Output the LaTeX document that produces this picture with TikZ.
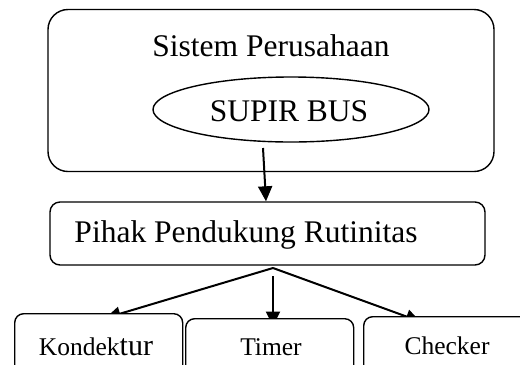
\documentclass[tikz,border=0pt]{standalone}
\usepackage{fontspec}
\setmainfont{Liberation Serif}
\usetikzlibrary{arrows.meta,shapes.geometric,backgrounds}
\begin{document}
\begin{tikzpicture}[x=1bp,y=-1bp,
  boxline/.style={draw,fill=white,line width=1.4bp},
  bigtext/.style={font=\fontsize{31.5bp}{36bp}\selectfont,inner sep=0pt,anchor=base},
  smalltext/.style={font=\fontsize{25.5bp}{30bp}\selectfont,inner sep=0pt,anchor=base},
  arr/.style={line width=2bp,-{Triangle[length=15bp,width=14bp]}}]
\useasboundingbox (0,0) rectangle (520,364);
\clip (0,0) rectangle (520,364);
% outer company box
\node[boxline,rounded corners=20bp,minimum width=446bp,minimum height=162bp] (sys) at (271,90.5) {};
\node[bigtext] (systxt) at (271,56) {Sistem Perusahaan};
\node[boxline,ellipse,minimum width=276bp,minimum height=65bp,inner sep=0pt] (supir) at (291,109.5) {};
\node[bigtext] (supirtxt) at (289,121.7) {SUPIR BUS};
% support box
\node[boxline,rounded corners=10bp,minimum width=435bp,minimum height=63bp] (pihak) at (267.5,233.5) {};
\node[bigtext] (pihaktxt) at (246,242.7) {Pihak Pendukung Rutinitas};
% bottom boxes
\node[boxline,rounded corners=9bp,minimum width=168bp,minimum height=100bp,anchor=north west] (kond) at (14,313) {};
\node[boxline,rounded corners=9bp,minimum width=168bp,minimum height=100bp,anchor=north west] (timer) at (185,318) {};
\node[boxline,rounded corners=9bp,minimum width=170bp,minimum height=100bp,anchor=north west] (check) at (363,316) {};
\node[smalltext] (kondtxt) at (96,355) {Kondek{\fontsize{30bp}{36bp}\selectfont tur}};
\node[smalltext] (timertxt) at (271,355) {Timer};
\node[smalltext] (checktxt) at (447,354) {Checker};
% connectors
\coordinate (a1) at (263,148);
\coordinate (fork) at (273,268);
\coordinate (forkm) at (273,276);
\coordinate (kondtip) at (105.6,318);
\coordinate (timertip) at (273,326.5);
\coordinate (checktip) at (420.7,321.7);
\draw[arr] (a1) -- (pihak.north -| 266,0);
% lower connectors sit behind the boxes, whose fill hides part of the heads
\begin{scope}[on background layer]
\draw[arr] (fork) -- (kondtip);
\draw[arr] (forkm) -- (timertip);
\draw[arr] (fork) -- (checktip);
\end{scope}
\end{tikzpicture}
\end{document}
